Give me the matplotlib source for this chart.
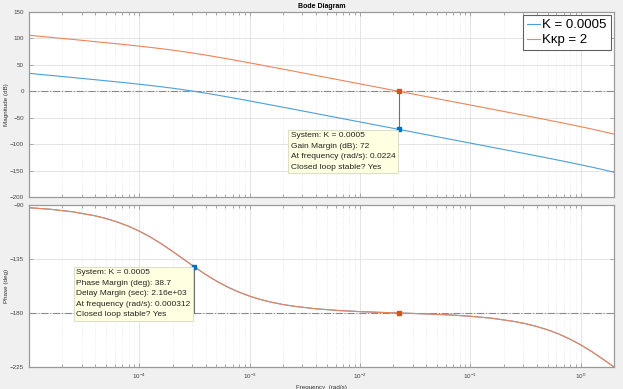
import matplotlib
matplotlib.use("Agg")
import matplotlib.pyplot as plt
from matplotlib.ticker import LogLocator, FixedLocator, NullFormatter

plt.rcParams["font.family"] = ["Liberation Sans", "DejaVu Sans"]

# ---- data (frequency in rad/s) ----
freq = [1.0e-5, 1.585e-5, 2.512e-5, 3.981e-5, 5.012e-5, 6.310e-5, 7.943e-5,
        1.0e-4, 1.259e-4, 1.585e-4, 1.995e-4, 2.512e-4, 3.162e-4, 3.981e-4,
        5.012e-4, 6.310e-4, 7.943e-4, 1.0e-3, 1.259e-3, 1.585e-3, 1.995e-3,
        2.512e-3, 3.981e-3, 6.310e-3, 1.0e-2, 1.585e-2, 2.512e-2, 3.981e-2,
        6.310e-2, 1.0e-1, 1.585e-1, 2.512e-1, 3.162e-1, 3.981e-1, 5.012e-1,
        6.310e-1, 7.943e-1, 1.0, 1.259, 1.585, 2.0]
mag_K = [33.97, 29.96, 25.94, 21.87, 19.81, 17.71, 15.56,
         13.34, 11.00, 8.51, 5.84, 2.95, -0.17, -3.50,
         -7.03, -10.69, -14.47, -18.32, -22.23, -26.17, -30.13,
         -34.06, -42.08, -50.07, -58.06, -66.06, -74.06, -82.06,
         -90.07, -98.07, -106.09, -114.13, -118.17, -122.23, -126.32,
         -130.47, -134.70, -139.03, -143.51, -148.18, -153.11]
mag_Kkp = [106.01, 102.00, 97.98, 93.91, 91.85, 89.75, 87.60,
           85.38, 83.04, 80.55, 77.88, 74.99, 71.87, 68.54,
           65.01, 61.35, 57.57, 53.72, 49.81, 45.87, 41.91,
           37.98, 29.96, 21.97, 13.98, 5.98, -2.02, -10.02,
           -18.03, -26.03, -34.05, -42.09, -46.13, -50.19, -54.28,
           -58.43, -62.66, -66.99, -71.47, -76.14, -81.07]
phase = [-92.29, -93.63, -95.74, -99.05, -101.33, -104.16, -107.63,
         -111.80, -116.73, -122.37, -128.59, -135.13, -141.67, -147.87,
         -153.48, -158.38, -162.53, -165.99, -168.81, -171.08, -172.92,
         -174.39, -176.52, -177.91, -178.86, -179.55, -180.15, -180.78,
         -181.58, -182.72, -184.44, -187.10, -188.93, -191.22, -194.04,
         -197.49, -201.65, -206.56, -212.18, -218.38, -225.0]

labels = ["K = 0.0005", "K\u03bap = 2"]
gm_freq, gm_mag_K, gm_mag_Kkp = 0.0224, -72.0, 0.0
pm_freq, pm_phase = 0.000312, -141.3
gm_text = ("System: K = 0.0005\nGain Margin (dB): 72\n"
           "At frequency (rad/s): 0.0224\nClosed loop stable? Yes")
pm_text = ("System: K = 0.0005\nPhase Margin (deg): 38.7\n"
           "Delay Margin (sec): 2.16e+03\nAt frequency (rad/s): 0.000312\n"
           "Closed loop stable? Yes")

mag_ticks = [150, 100, 50, 0, -50, -100, -150, -200]
phase_ticks = [-90, -135, -180, -225]
x_ticks = [1e-4, 1e-3, 1e-2, 1e-1, 1e0]

blue = "#4a9fdc"
orange = "#f08358"
blue_m = "#0072BD"
orange_m = "#D95319"
spine = "#9a9a9a"

fig = plt.figure(figsize=(6.23, 3.89), dpi=100, facecolor="#f0f0f0")
ax1 = fig.add_axes([0.0465, 0.4936, 0.939, 0.4756])
ax2 = fig.add_axes([0.0465, 0.0566, 0.939, 0.4165])

for ax in (ax1, ax2):
    ax.set_xscale("log")
    ax.set_xlim(1e-5, 2)
    ax.set_facecolor("white")
    ax.xaxis.set_major_locator(FixedLocator(x_ticks))
    ax.xaxis.set_minor_locator(LogLocator(base=10, subs=range(2, 10), numticks=20))
    ax.xaxis.set_minor_formatter(NullFormatter())
    ax.grid(True, which="major", color="#e4e4e4", lw=0.7, ls="-")
    ax.grid(True, which="minor", axis="x", color="#e4e4e4", lw=0.5, ls=":")
    ax.set_axisbelow(True)
    ax.tick_params(which="both", direction="in", top=True, right=True,
                   colors=spine, labelcolor="#444444", labelsize=4.5,
                   length=3, width=0.6)
    ax.tick_params(which="minor", length=2)
    for s in ax.spines.values():
        s.set_color(spine)
        s.set_linewidth(0.9)

box_style = dict(boxstyle="square,pad=0.3", fc="#ffffe1", ec="#d8d8c0", lw=0.6)

# magnitude
ax1.set_ylim(-200, 150)
ax1.set_yticks(mag_ticks)
ax1.tick_params(axis="x", labelbottom=False)
ax1.axhline(0, color="#8a8a8a", lw=0.8, ls="-.")
l1, = ax1.plot(freq, mag_K, color=blue, lw=0.8, label=labels[0])
l2, = ax1.plot(freq, mag_Kkp, color=orange, lw=0.8, label=labels[1])
ax1.plot([gm_freq, gm_freq], [gm_mag_Kkp, gm_mag_K], color="#707070", lw=0.8)
ax1.plot([gm_freq], [gm_mag_Kkp], "s", color=orange_m, ms=2.5)
ax1.plot([gm_freq], [gm_mag_K], "s", color=blue_m, ms=2.5)
ax1.annotate(gm_text, xy=(gm_freq, gm_mag_K), xytext=(-2.5, -2.0),
             textcoords="offset points", ha="right", va="top", fontsize=6,
             multialignment="left", color="#222222", linespacing=1.7,
             bbox=box_style)
ax1.set_ylabel("Magnitude (dB)", fontsize=4.5, color="#333333")
ax1.yaxis.set_label_coords(-0.034, 0.5)
ax1.set_title("Bode Diagram", fontsize=5, fontweight="bold", pad=3)
leg = ax1.legend(loc="upper right", fontsize=9.5, handlelength=1.0,
                 handletextpad=0.15, borderpad=0.3, labelspacing=0.2,
                 fancybox=False, framealpha=1, edgecolor="#606060",
                 borderaxespad=0.25)
leg.get_frame().set_linewidth(0.8)

# phase
ax2.set_ylim(-225, -90)
ax2.set_yticks(phase_ticks)
ax2.axhline(-180, color="#8a8a8a", lw=0.8, ls="-.")
ax2.plot(freq, phase, color=blue, lw=0.8)
ax2.plot(freq, phase, color=orange, lw=0.8)
ax2.plot([pm_freq, pm_freq], [pm_phase, -180], color="#707070", lw=0.8)
ax2.plot([gm_freq], [-180], "s", color=orange_m, ms=2.5)
ax2.plot([pm_freq], [pm_phase], "s", color=blue_m, ms=2.5)
ax2.annotate(pm_text, xy=(pm_freq, pm_phase), xytext=(-2.5, -2.0),
             textcoords="offset points", ha="right", va="top", fontsize=6,
             multialignment="left", color="#222222", linespacing=1.7,
             bbox=box_style)
ax2.set_ylabel("Phase (deg)", fontsize=4.5, color="#333333")
ax2.yaxis.set_label_coords(-0.034, 0.5)
ax2.set_xlabel("Frequency  (rad/s)", fontsize=4.5, color="#333333", labelpad=3)

fig.savefig("out.png", dpi=100, facecolor=fig.get_facecolor())
